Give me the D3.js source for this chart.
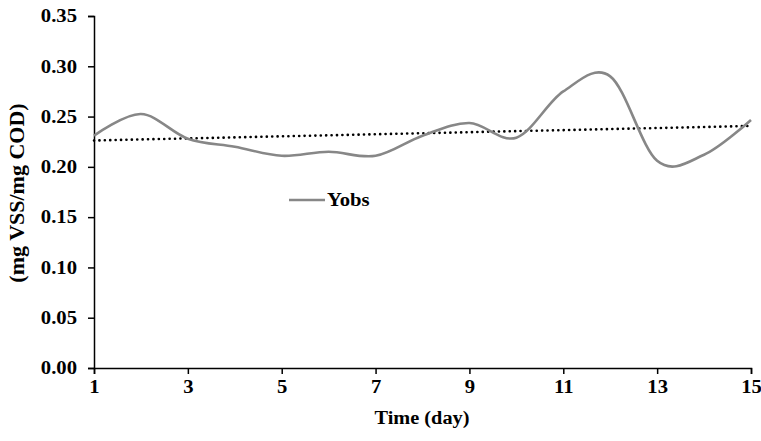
<!DOCTYPE html>
<html><head><meta charset="utf-8">
<script src="https://cdn.jsdelivr.net/npm/d3@7"></script>
<style>
body{margin:0;background:#fff;}
text{font-family:"Liberation Serif","Times New Roman",serif;font-weight:bold;fill:#000;}
</style></head>
<body><svg id="c" width="761" height="441"></svg>
<script>
const days = [1,2,3,4,5,6,7,8,9,10,11,12,13,14,15];
const yobs = [0.231,0.2525,0.228,0.220,0.211,0.215,0.211,0.231,0.2436,0.229,0.275,0.290,0.206,0.212,0.2466];
const xTicks = [1,3,5,7,9,11,13,15];
const yTicks = [0,0.05,0.10,0.15,0.20,0.25,0.30,0.35];
const seriesName = "Yobs";
const xTitle = "Time (day)";
const yTitle = "(mg VSS/mg COD)";

const svg = d3.select("#c");
const x = d3.scaleLinear().domain([1,15]).range([94,751]);
const y = d3.scaleLinear().domain([0,0.35]).range([368,16]);
const sx = 1.15;

// axes
const ya = svg.append("g").attr("transform","translate(94,0)")
  .call(d3.axisLeft(y).tickValues(yTicks).tickFormat(d3.format(".2f")).tickSize(6).tickPadding(11));
ya.selectAll("text").attr("font-size",18).attr("transform",`scale(${sx},1)`).attr("x",-17/sx);
const xa = svg.append("g").attr("transform","translate(0,368)")
  .call(d3.axisBottom(x).tickValues(xTicks).tickFormat(d3.format("d")).tickSize(6).tickPadding(6));
xa.selectAll("text").attr("font-size",18).attr("transform",`scale(${sx},1)`).attr("dy","0.71em");
svg.selectAll(".domain").attr("stroke","#000").attr("stroke-width",1.5);
svg.selectAll(".tick line").attr("stroke","#000").attr("stroke-width",1.5);
svg.selectAll(".tick text").attr("font-family",null);

// trend (least squares)
const mx = d3.mean(days), my = d3.mean(yobs);
const slope = d3.sum(days,(d,i)=>(d-mx)*(yobs[i]-my))/d3.sum(days,d=>(d-mx)*(d-mx));
const icpt = my - slope*mx;
const ends = [days[0], days[days.length-1]];
svg.append("path")
  .attr("d", d3.line().x(d=>x(d)).y(d=>y(icpt+slope*d))(ends))
  .attr("fill","none").attr("stroke","#000").attr("stroke-width",2.6)
  .attr("stroke-linecap","round").attr("stroke-dasharray","0.1,5.3");

// series
svg.append("path")
  .attr("d", d3.line().curve(d3.curveCatmullRom.alpha(0)).x((d,i)=>x(d)).y((d,i)=>y(yobs[i]))(days))
  .attr("fill","none").attr("stroke","#878787").attr("stroke-width",2.6);

// legend
svg.append("line").attr("x1",289).attr("x2",325).attr("y1",200).attr("y2",200)
  .attr("stroke","#878787").attr("stroke-width",2.6);
svg.append("text").attr("transform",`translate(327,206) scale(${sx},1)`).attr("font-size",18).text(seriesName);

// titles
svg.append("text").attr("transform",`translate(422,424) scale(1.07,1)`).attr("text-anchor","middle")
  .attr("font-size",19).text(xTitle);
svg.append("text").attr("transform","translate(24,193) rotate(-90)").attr("text-anchor","middle")
  .attr("font-size",22).text(yTitle);
</script></body></html>
